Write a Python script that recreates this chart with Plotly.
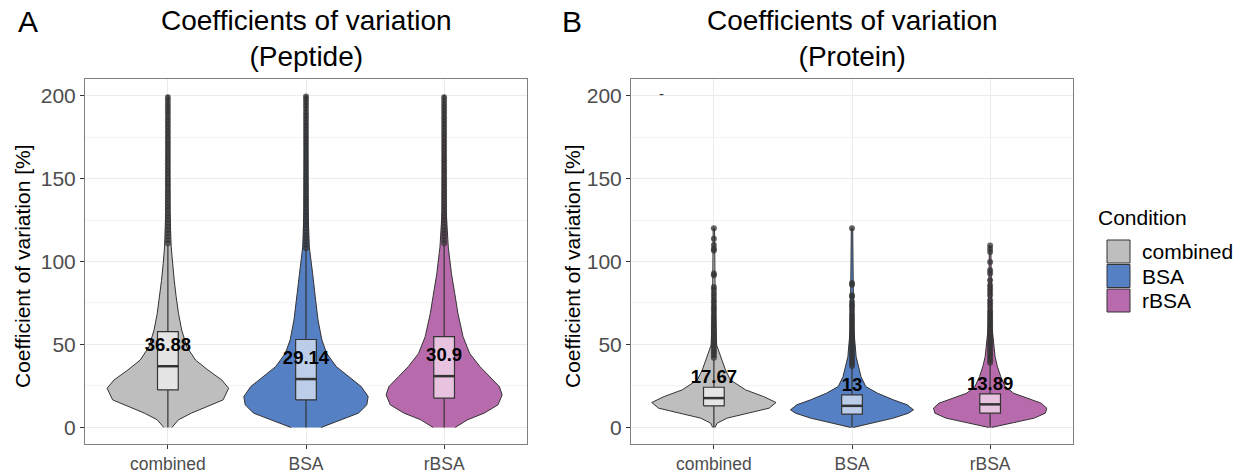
import plotly.graph_objects as go

categories = ["combined", "BSA", "rBSA"]
fill_colors = ["#BEBEBE", "#5580C4", "#B86BAC"]
box_colors = ["#E5E5E5", "#BBCDE8", "#E7C3DF"]

# ---------- Panel A: Peptide ----------
pep_medians = [36.88, 29.14, 30.9]
pep_q1 = [22.6, 16.6, 17.6]
pep_q3 = [57.7, 53.0, 54.7]
pep_lo = [0, 0, 0]
pep_hi = [110, 107.5, 110]

# violin profile: y levels and half-widths (category units)
pep_vy_comb = [0, 4.6, 8.6, 12.6, 16.6, 23.6, 28.6, 34.6, 40.6, 48.6, 58.7, 68.7, 78.7, 88.7, 98.7, 108.7, 130, 160, 200]
pep_vw_comb = [0.03, 0.077, 0.17, 0.29, 0.40, 0.44, 0.39, 0.29, 0.20, 0.137, 0.10, 0.077, 0.06, 0.046, 0.034, 0.024, 0.015, 0.01, 0.006]
pep_vy_bsa = [0, 4.6, 8.6, 13.6, 18.6, 24.6, 30.6, 36.6, 44.6, 52.7, 64.7, 78.7, 92.7, 104.7, 108.7, 130, 160, 200]
pep_vw_bsa = [0.11, 0.25, 0.38, 0.44, 0.45, 0.40, 0.31, 0.22, 0.15, 0.115, 0.087, 0.067, 0.048, 0.031, 0.024, 0.015, 0.01, 0.006]
pep_vy_rbsa = [0, 4.6, 8.6, 13.6, 19.6, 24.6, 30.6, 36.6, 44.6, 54.7, 68.7, 80.7, 92.7, 104.7, 108.7, 130, 160, 200]
pep_vw_rbsa = [0.08, 0.17, 0.29, 0.39, 0.42, 0.40, 0.33, 0.26, 0.185, 0.137, 0.10, 0.077, 0.053, 0.036, 0.03, 0.015, 0.01, 0.006]

pep_out_comb = [111, 113, 115, 117, 119, 121, 123, 125, 127, 129, 131, 133, 135, 137, 139, 141, 143, 145, 147,
                149, 151, 153, 155, 157, 159, 161, 163, 165, 167, 169, 171, 173, 175, 177, 179, 181, 183, 185,
                187, 189, 191, 193, 195, 197, 199]
pep_out_bsa = [108, 110, 112, 114, 116, 118, 120, 122, 124, 126, 128, 130, 132, 134, 136, 138, 140, 142, 144,
               146, 148, 150, 152, 154, 156, 158, 160, 162, 164, 166, 168, 170, 172, 174, 176, 178, 180, 182,
               184, 186, 188, 190, 192, 194, 196, 198, 199.5]
pep_out_rbsa = [111, 113, 115, 117, 119, 121, 123, 125, 127, 129, 131, 133, 135, 137, 139, 141, 143, 145, 147,
                149, 151, 153, 155, 157, 159, 161, 163, 165, 167, 169, 171, 173, 175, 177, 179, 181, 183, 185,
                187, 189, 191, 193, 195, 197, 199]

# ---------- Panel B: Protein ----------
prot_medians = [17.67, 13, 13.89]
prot_q1 = [13.0, 8.0, 8.6]
prot_q3 = [24.2, 19.6, 20.2]
prot_lo = [0, 0, 0]
prot_hi = [41, 36.5, 38]

prot_vy_comb = [0, 2.6, 5.6, 8.6, 11.6, 15.0, 18.6, 22.6, 28.6, 34.6, 40.6, 45.6, 49.6, 70, 120]
prot_vw_comb = [0.008, 0.024, 0.096, 0.24, 0.40, 0.45, 0.36, 0.23, 0.12, 0.084, 0.06, 0.036, 0.02, 0.01, 0.005]
prot_vy_bsa = [0, 2.6, 5.6, 8.6, 10.6, 13.6, 16.6, 20.6, 24.6, 30.6, 36.6, 42.6, 60, 120]
prot_vw_bsa = [0.01, 0.137, 0.30, 0.41, 0.445, 0.40, 0.30, 0.185, 0.10, 0.065, 0.046, 0.03, 0.012, 0.005]
prot_vy_rbsa = [0, 2.6, 5.6, 8.6, 11.6, 14.6, 17.6, 20.6, 24.6, 30.6, 36.6, 42.6, 60, 109.7]
prot_vw_rbsa = [0.01, 0.15, 0.32, 0.40, 0.41, 0.37, 0.27, 0.17, 0.11, 0.077, 0.053, 0.036, 0.014, 0.005]

prot_out_comb = [42, 43.5, 45, 46, 47.5, 49, 50, 51.5, 53, 54.5, 56, 57.5, 59, 60.5, 62, 63.5, 65, 66.5, 68, 70,
                 71.5, 73, 75, 76.7, 78.7, 80.7, 83, 84.7, 91.7, 92.7, 106.7, 107.7, 110, 113.7, 120.1]
prot_out_bsa = [37, 38.5, 40, 41.5, 43, 44.5, 46, 47.5, 49, 50.5, 52, 53.5, 55, 56.5, 58, 59.5, 61, 62.5, 64,
                65.5, 67, 68.7, 70.7, 72.7, 74, 75.7, 78.7, 79.7, 86, 87, 120]
prot_out_rbsa = [39, 40.5, 42, 43.5, 45, 46.5, 48, 49.5, 51, 52.5, 54, 55.5, 57, 58.5, 60, 61.5, 63, 64.5, 66,
                 67.5, 69, 70.5, 72.7, 74.7, 76.7, 79.7, 81.7, 83.7, 85.7, 88.7, 92.7, 94.7, 99.7, 105.7, 107.7,
                 109.7]

y_ticks = [0, 50, 100, 150, 200]
label_offset = 11.7
box_width = 0.15
FONT = "Liberation Sans, Arial, sans-serif"
LINE = "#333333"

fig = go.Figure()


def add_panel(xa, ya, profiles, q1, med, q3, lo, hi, outliers):
    for i, ((vy, vw), col, bcol) in enumerate(zip(profiles, fill_colors, box_colors)):
        common = dict(xaxis=xa, yaxis=ya, showlegend=False, hoverinfo="skip")
        # violin body
        xs = [i - w for w in vw] + [i + w for w in reversed(vw)]
        ys = list(vy) + list(reversed(vy))
        fig.add_trace(go.Scatter(x=xs, y=ys, fill="toself", fillcolor=col, mode="lines",
                                 line=dict(color=LINE, width=1), **common))
        # whiskers
        fig.add_trace(go.Scatter(x=[i, i, None, i, i], y=[lo[i], q1[i], None, q3[i], hi[i]],
                                 mode="lines", line=dict(color=LINE, width=1.2), **common))
        # box
        hb = box_width / 2
        fig.add_trace(go.Scatter(x=[i - hb, i + hb, i + hb, i - hb, i - hb],
                                 y=[q1[i], q1[i], q3[i], q3[i], q1[i]],
                                 fill="toself", fillcolor=bcol, mode="lines",
                                 line=dict(color=LINE, width=1.2), **common))
        # median
        fig.add_trace(go.Scatter(x=[i - hb, i + hb], y=[med[i], med[i]],
                                 mode="lines", line=dict(color=LINE, width=2.5), **common))
        # outliers
        fig.add_trace(go.Scatter(x=[i] * len(outliers[i]), y=outliers[i], mode="markers",
                                 marker=dict(color="rgba(51,51,51,0.75)", size=6), **common))
        # median label
        fig.add_trace(go.Scatter(x=[i], y=[med[i] + label_offset], mode="text",
                                 text=[f"{med[i]:g}"],
                                 textfont=dict(family=FONT, size=18.5, color="black", weight="bold"),
                                 **common))


add_panel("x", "y",
          [(pep_vy_comb, pep_vw_comb), (pep_vy_bsa, pep_vw_bsa), (pep_vy_rbsa, pep_vw_rbsa)],
          pep_q1, pep_medians, pep_q3, pep_lo, pep_hi, [pep_out_comb, pep_out_bsa, pep_out_rbsa])
add_panel("x2", "y2",
          [(prot_vy_comb, prot_vw_comb), (prot_vy_bsa, prot_vw_bsa), (prot_vy_rbsa, prot_vw_rbsa)],
          prot_q1, prot_medians, prot_q3, prot_lo, prot_hi, [prot_out_comb, prot_out_bsa, prot_out_rbsa])

# stray dash in panel B
fig.add_trace(go.Scatter(x=[-0.38], y=[200], mode="text", text=["-"],
                         textfont=dict(family=FONT, size=15, color="#333333"),
                         xaxis="x2", yaxis="y2", showlegend=False, hoverinfo="skip"))

W, H = 1247, 474
ydom = [1 - 444 / H, 1 - 79 / H]
xaxis_common = dict(range=[-0.6, 2.6], tickmode="array", tickvals=[0, 1, 2], ticktext=categories,
                    showgrid=True, gridcolor="#EBEBEB", gridwidth=1, zeroline=False,
                    showline=True, mirror=True, linecolor="#7F7F7F", linewidth=1,
                    ticks="outside", ticklen=4, tickcolor=LINE,
                    tickfont=dict(family=FONT, size=17.5, color="#4D4D4D"), fixedrange=True)
yaxis_common = dict(range=[-10, 210], tickmode="array", tickvals=y_ticks,
                    showgrid=True, gridcolor="#EBEBEB", gridwidth=1, zeroline=False,
                    minor=dict(tickmode="array", tickvals=[25, 75, 125, 175], showgrid=True,
                               gridcolor="#F3F3F3", gridwidth=1, ticks=""),
                    showline=True, mirror=True, linecolor="#7F7F7F", linewidth=1,
                    ticks="outside", ticklen=4, tickcolor=LINE,
                    tickfont=dict(family=FONT, size=21, color="#4D4D4D"), fixedrange=True)

fig.update_layout(
    width=W, height=H, margin=dict(l=0, r=0, t=0, b=0),
    paper_bgcolor="white", plot_bgcolor="white", showlegend=False,
    font=dict(family=FONT),
    xaxis=dict(domain=[85 / W, 527 / W], anchor="y", **xaxis_common),
    yaxis=dict(domain=ydom, anchor="x", **yaxis_common),
    xaxis2=dict(domain=[631 / W, 1073 / W], anchor="y2", **xaxis_common),
    yaxis2=dict(domain=ydom, anchor="x2", **yaxis_common),
)

ann = []
# panel letters and titles
ann.append(dict(x=28 / W, y=1 - 22 / H, text="A", font=dict(size=30, color="black")))
ann.append(dict(x=572 / W, y=1 - 22 / H, text="B", font=dict(size=30, color="black")))
ann.append(dict(x=306 / W, y=1 - 38 / H, text="Coefficients of variation<br>(Peptide)",
                font=dict(size=28, color="black")))
ann.append(dict(x=852 / W, y=1 - 38 / H, text="Coefficients of variation<br>(Protein)",
                font=dict(size=28, color="black")))
# y-axis titles
for xp in (22, 572):
    ann.append(dict(x=xp / W, y=1 - 266 / H, text="Coefficient of variation [%]", textangle=-90,
                    font=dict(size=21, color="black")))
# legend
ann.append(dict(x=1096 / W, y=1 - 218 / H, text="Condition", xanchor="left",
                font=dict(size=21, color="black")))
shapes = []
for k, (name, col) in enumerate(zip(categories, fill_colors)):
    top = 240 + k * 24.5
    shapes.append(dict(type="rect", xref="paper", yref="paper",
                       x0=1107 / W, x1=1130 / W, y0=1 - (top + 23) / H, y1=1 - top / H,
                       fillcolor=col, line=dict(color=LINE, width=1)))
    ann.append(dict(x=1140 / W, y=1 - (top + 11.5) / H, text=name, xanchor="left",
                    font=dict(size=21, color="black")))

for a in ann:
    a.setdefault("xanchor", "center")
    a.update(xref="paper", yref="paper", yanchor="middle", showarrow=False)
    a["font"]["family"] = FONT

fig.update_layout(annotations=ann, shapes=shapes)
fig.write_html("out.html")
